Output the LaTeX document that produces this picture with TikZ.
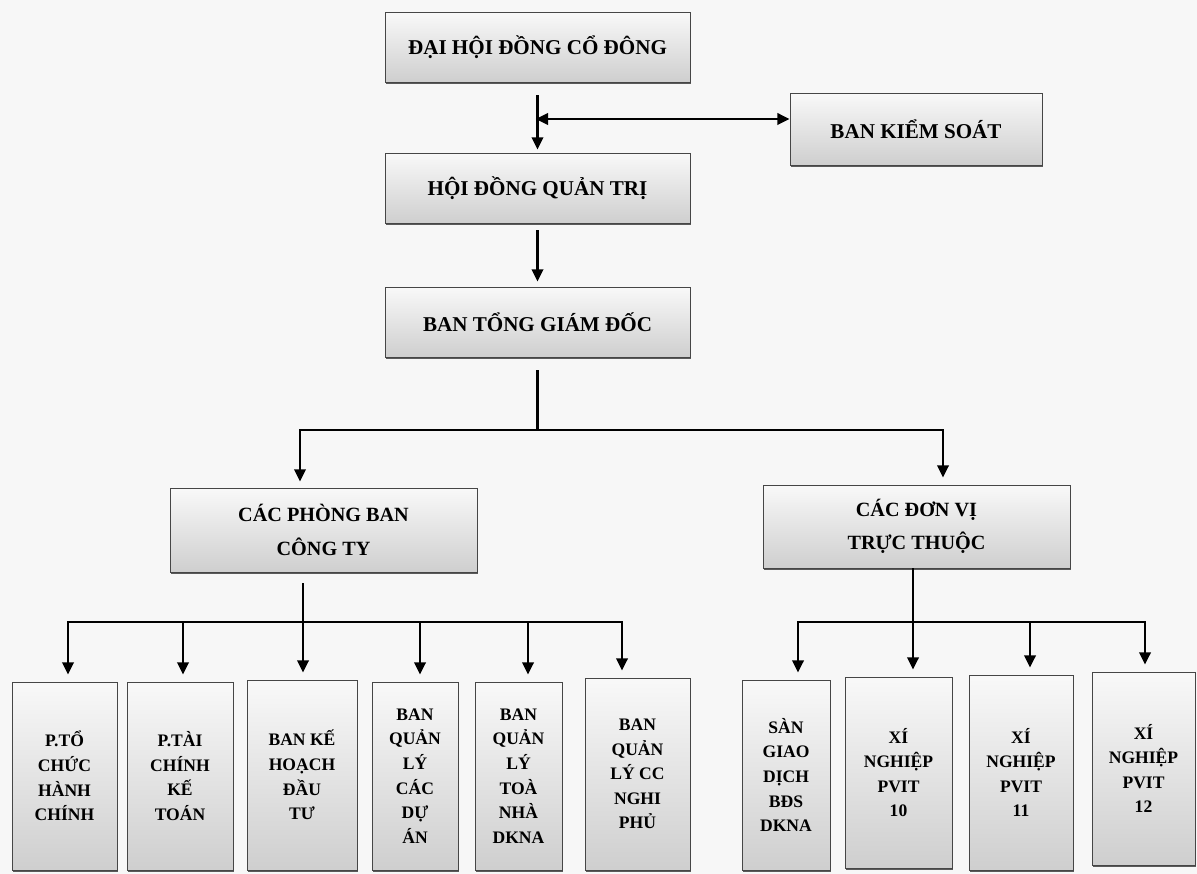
\documentclass[tikz,border=0pt]{standalone}
\usepackage{fontspec}
\setmainfont{Liberation Serif}
\usetikzlibrary{arrows.meta, shadows}

\begin{document}
\begin{tikzpicture}[x=0.02cm, y=-0.02cm, >={Triangle[length=7pt, width=6.5pt]}, line width=1.5pt]
				\tikzstyle{box} = [draw=gray!55!black, line width=0.5pt, top color=gray!5, bottom color=gray!38, align=center, drop shadow={shadow xshift=0.3pt, shadow yshift=-1.3pt, fill=black!80, opacity=0.8}]
				\tikzstyle{big} = [box, font=\fontsize{12}{16}\selectfont\bfseries]
				\tikzstyle{mid} = [box, font=\fontsize{11.5}{19}\selectfont\bfseries]
				\tikzstyle{small} = [box, font=\fontsize{10}{14}\selectfont\bfseries]
				
				\fill[gray!6] (0,0) rectangle (1197,874);
				\useasboundingbox (0,0) rectangle (1197,874);
				
				\node[big, minimum width=6.1cm, minimum height=1.4cm]		at (537.5,47)		(dh)	{ĐẠI HỘI ĐỒNG CỔ ĐÔNG};
				\node[big, minimum width=5.04cm, minimum height=1.44cm]	at (916,129)		(bks)	{BAN KIỂM SOÁT};
				\node[big, minimum width=6.1cm, minimum height=1.4cm]		at (537.5,188)		(hd)	{HỘI ĐỒNG QUẢN TRỊ};
				\node[big, minimum width=6.1cm, minimum height=1.4cm]		at (537.5,322)		(tgd)	{BAN TỔNG GIÁM ĐỐC};
				\node[mid, minimum width=6.14cm, minimum height=1.68cm]	at (323.5,530)		(pb)	{CÁC PHÒNG BAN\\CÔNG TY};
				\node[mid, minimum width=6.14cm, minimum height=1.66cm]	at (916.5,526.5)	(dv)	{CÁC ĐƠN VỊ\\TRỰC THUỘC};
				
				\node[small, minimum width=2.1cm, minimum height=3.76cm]	at (64.5,776)		(p1)	{P.TỔ\\CHỨC\\HÀNH\\CHÍNH};
				\node[small, minimum width=2.12cm, minimum height=3.76cm]	at (180,776)		(p2)	{P.TÀI\\CHÍNH\\KẾ\\TOÁN};
				\node[small, minimum width=2.2cm, minimum height=3.8cm]	at (302,775)		(p3)	{BAN KẾ\\HOẠCH\\ĐẦU\\TƯ};
				\node[small, minimum width=1.72cm, minimum height=3.76cm]	at (415,776)		(p4)	{BAN\\QUẢN\\LÝ\\CÁC\\DỰ\\ÁN};
				\node[small, minimum width=1.74cm, minimum height=3.76cm]	at (518.5,776)		(p5)	{BAN\\QUẢN\\LÝ\\TOÀ\\NHÀ\\DKNA};
				\node[small, minimum width=2.1cm, minimum height=3.84cm]	at (637.5,774)		(p6)	{BAN\\QUẢN\\LÝ CC\\NGHI\\PHỦ};
				\node[small, minimum width=1.76cm, minimum height=3.8cm]	at (786,775)		(d1)	{SÀN\\GIAO\\DỊCH\\BĐS\\DKNA};
				\node[small, minimum width=2.14cm, minimum height=3.82cm]	at (898.5,772.5)	(d2)	{XÍ\\NGHIỆP\\PVIT\\10};
				\node[small, minimum width=2.08cm, minimum height=3.9cm]	at (1021,772.5)		(d3)	{XÍ\\NGHIỆP\\PVIT\\11};
				\node[small, minimum width=2.06cm, minimum height=3.86cm]	at (1143.5,768.5)	(d4)	{XÍ\\NGHIỆP\\PVIT\\12};
				
				\coordinate (j0) at (537.5,119);
				\coordinate (tl) at (300,430);
				\coordinate (tr) at (943,430);
				\coordinate (l1) at (68,622);
				\coordinate (l2) at (183,622);
				\coordinate (l3) at (303,622);
				\coordinate (l4) at (420,622);
				\coordinate (l5) at (528,622);
				\coordinate (l6) at (622,622);
				\coordinate (r1) at (798,622);
				\coordinate (r2) at (913,622);
				\coordinate (r3) at (1030,622);
				\coordinate (r4) at (1145,622);
				
				\draw[->, shorten >=0.06cm] ([yshift=-0.26cm]dh.south) -- (hd.north);
				\draw[<->, shorten <=-1pt] (j0) -- (j0 -| bks.west);
				\draw[->, shorten >=0.1cm] ([yshift=-0.14cm]hd.south) -- (tgd.north);
				\draw ([yshift=-0.26cm]tgd.south) -- (tgd.south |- tl);
				\draw[<->, shorten <=0.12cm, shorten >=0.14cm] (tl |- pb.north) -- (tl) -- (tr) -- (tr |- dv.north);
				
				\draw[<->, shorten <=0.14cm, shorten >=0.14cm] (l1 |- p1.north) -- (l1) -- (l6) -- (l6 |- p6.north);
				\draw[->, shorten >=0.14cm] (l2) -- (l2 |- p2.north);
				\draw[->, shorten >=0.14cm] ([yshift=-0.22cm]pb.south -| l3) -- (l3 |- p3.north);
				\draw[->, shorten >=0.14cm] (l4) -- (l4 |- p4.north);
				\draw[->, shorten >=0.14cm] (l5) -- (l5 |- p5.north);
				
				\draw[<->, shorten <=0.14cm, shorten >=0.14cm] (r1 |- d1.north) -- (r1) -- (r4) -- (r4 |- d4.north);
				\draw[->, shorten >=0.14cm] (dv.south -| r2) -- (r2 |- d2.north);
				\draw[->, shorten >=0.14cm] (r3) -- (r3 |- d3.north);
			\end{tikzpicture}
\end{document}
